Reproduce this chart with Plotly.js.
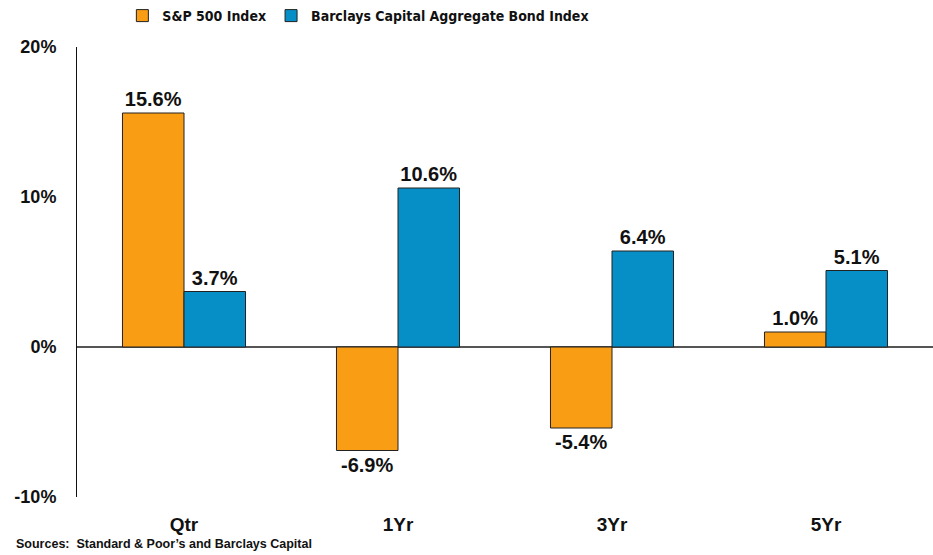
<!DOCTYPE html>
<html>
<head>
<meta charset="utf-8">
<script src="https://cdn.plot.ly/plotly-3.0.1.min.js"></script>
<style>
  html, body { margin: 0; padding: 0; background: #fff; }
  #chart { width: 933px; height: 555px; }
</style>
</head>
<body>
<div id="chart"></div>
<script>
const periods = ['Qtr', '1Yr', '3Yr', '5Yr'];
const sp500 = [15.6, -6.9, -5.4, 1.0];
const barclays = [3.7, 10.6, 6.4, 5.1];
const yTicks = [-10, 0, 10, 20];

const boldFont = { family: 'Liberation Sans, Arial, sans-serif', weight: 'bold', color: '#111' };

function series(name, values, colour) {
    return {
        type: 'bar',
        name: name,
        x: periods,
        y: values,
        text: values.map(v => v.toFixed(1) + '%'),
        textposition: 'outside',
        textfont: Object.assign({ size: 20 }, boldFont),
        cliponaxis: false,
        marker: { color: colour, line: { color: '#222', width: 1 } },
        hoverinfo: 'x+y'
    };
}

const traces = [
    series('S&P 500 Index', sp500, '#F99D14'),
    series('Barclays Capital Aggregate Bond Index', barclays, '#068FC7')
];

const layout = {
    width: 933,
    height: 555,
    margin: { l: 77, r: 0, t: 47, b: 58 },
    paper_bgcolor: '#fff',
    plot_bgcolor: '#fff',
    barmode: 'group',
    bargap: 0.425,
    bargroupgap: 0,
    showlegend: true,
    legend: {
        orientation: 'h',
        x: 0.053, xanchor: 'left',
        y: 1.0, yanchor: 'top',
        yref: 'container',
        font: { family: 'Liberation Sans Narrow, DejaVu Sans Condensed, sans-serif', weight: 'bold', stretch: 'condensed', size: 14, color: '#111' },
        itemwidth: 30,
        tracegroupgap: 0
    },
    xaxis: {
        showline: false,
        ticks: '',
        ticklabelstandoff: 14,
        tickfont: Object.assign({ size: 19 }, boldFont),
        fixedrange: true
    },
    yaxis: {
        range: [-10, 20],
        tickvals: yTicks,
        ticktext: yTicks.map(v => v + '%'),
        tickfont: Object.assign({ size: 18 }, boldFont),
        ticklabelstandoff: 16,
        showgrid: false,
        showline: true,
        linecolor: '#111',
        linewidth: 1,
        zeroline: true,
        zerolinecolor: '#555',
        zerolinewidth: 2,
        ticks: '',
        fixedrange: true
    },
    annotations: [{
        text: 'Sources:  Standard &amp; Poor\u2019s and Barclays Capital',
        xref: 'paper', yref: 'paper',
        x: -0.074, y: -0.085,
        xanchor: 'left', yanchor: 'top',
        showarrow: false,
        font: Object.assign({ size: 12.5 }, boldFont)
    }]
};

Plotly.newPlot('chart', traces, layout, { displayModeBar: false, staticPlot: true });
</script>
</body>
</html>
